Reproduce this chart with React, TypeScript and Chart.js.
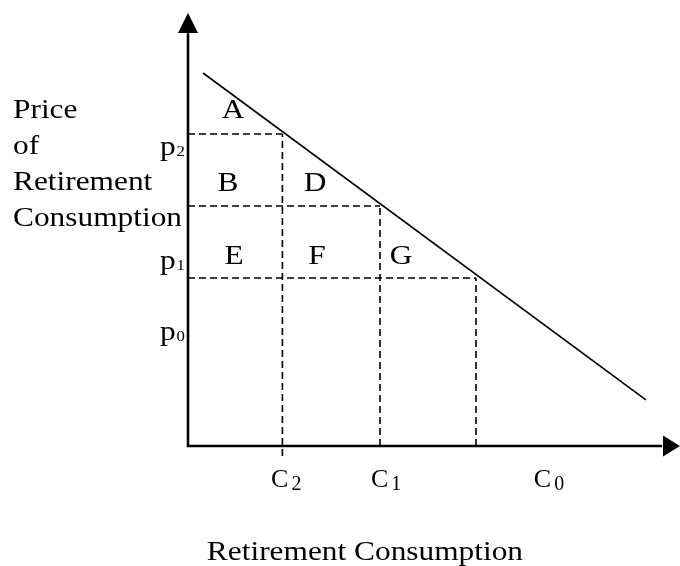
import React, { useEffect, useRef } from "react";
import { Chart, registerables } from "chart.js";

Chart.register(...registerables);

// ---- data (diagram units) ----
const X_MAX = 15.375;
const Y_MAX = 18.04;
const demandX = [0.47, 14.31];
const demandY = [15.54, 1.92];
const cLevels = [2.95, 6, 9]; // vertical dashed guides (C2, C1, third)
const pLevels = [13, 10, 7]; // horizontal dashed guides
const c2Drop = -0.42; // C2 guide continues below the axis
const regionLabels = ["A", "B", "D", "E", "F", "G"];
const regionX = [1.41, 1.25, 3.97, 1.44, 4.03, 6.66];
const regionY = [14.08, 11.0, 11.0, 7.96, 7.96, 7.96];
const priceTickSubs = ["2", "1", "0"];
const priceTickY = [12.125, 7.375, 4.42];
const consTickSubs = ["2", "1", "0"];
const consTickX = [3.07, 6.19, 11.28];
const consTickY = -1.7;
const yTitleLines = ["Price", "of", "Retirement", "Consumption"];
const yTitleTop = 13.67;
const xTitle = "Retirement Consumption";
const xTitleX = 5.53;
const xTitleY = -4.75;

const FONT = '"Liberation Serif", "Times New Roman", serif';
const SX = 1.12;

function drawText(ctx: CanvasRenderingContext2D, text: string, x: number, y: number, size: number, align: "left" | "center" | "right", sx = SX) {
  ctx.save();
  ctx.font = `${size}px ${FONT}`;
  ctx.textBaseline = "alphabetic";
  ctx.textAlign = "left";
  const w = ctx.measureText(text).width * sx;
  let x0 = x;
  if (align === "center") x0 = x - w / 2;
  if (align === "right") x0 = x - w;
  ctx.translate(x0, y);
  ctx.scale(sx, 1);
  ctx.fillStyle = "#000";
  ctx.fillText(text, 0, 0);
  ctx.restore();
  return w;
}

function subWidth(ctx: CanvasRenderingContext2D, main: string, sub: string, mSize: number, sSize: number, sx: number) {
  ctx.save();
  ctx.font = `${mSize}px ${FONT}`;
  const a = ctx.measureText(main).width * sx;
  ctx.font = `${sSize}px ${FONT}`;
  const b = ctx.measureText(sub).width * sx;
  ctx.restore();
  return [a, b];
}

const diagramPlugin = {
  id: "diagram",
  afterDatasetsDraw(chart: any) {
    const ctx: CanvasRenderingContext2D = chart.ctx;
    const xs = chart.scales.x;
    const ys = chart.scales.y;
    const px = (v: number) => xs.getPixelForValue(v);
    const py = (v: number) => ys.getPixelForValue(v);

    // arrowheads
    ctx.save();
    ctx.fillStyle = "#000";
    const ox = px(0);
    const oy = py(0);
    const ty = py(Y_MAX);
    ctx.beginPath();
    ctx.moveTo(ox, ty);
    ctx.lineTo(ox - 10, ty + 20);
    ctx.lineTo(ox + 10, ty + 20);
    ctx.closePath();
    ctx.fill();
    const tx = px(X_MAX);
    ctx.beginPath();
    ctx.moveTo(tx, oy);
    ctx.lineTo(tx - 17, oy - 10.5);
    ctx.lineTo(tx - 17, oy + 10.5);
    ctx.closePath();
    ctx.fill();
    ctx.restore();

    // region letters
    regionLabels.forEach((t, i) => {
      drawText(ctx, t, px(regionX[i]), py(regionY[i]) + 9.5, 28, "center");
    });

    // price ticks p2, p1, p0 (right aligned next to axis)
    priceTickSubs.forEach((s, i) => {
      const right = px(0) - 3;
      const base = py(priceTickY[i]);
      const [a, b] = subWidth(ctx, "p", s, 28, 15, SX);
      const start = right - a - b - 1;
      drawText(ctx, "p", start, base, 28, "left");
      drawText(ctx, s, start + a + 1, base + 1, 15, "left");
    });

    // consumption ticks C2, C1, C0
    consTickSubs.forEach((s, i) => {
      const cx = px(consTickX[i]);
      const base = py(consTickY);
      const [a, b] = subWidth(ctx, "C", s, 26, 20, 1.0);
      const start = cx - (a + b + 3) / 2;
      drawText(ctx, "C", start, base, 26, "left", 1.0);
      drawText(ctx, s, start + a + 3, base + 3, 20, "left", 1.0);
    });

    // y title (left, multi-line)
    yTitleLines.forEach((t, i) => {
      drawText(ctx, t, 13, py(yTitleTop) + i * 36, 28, "left");
    });

    // x title
    drawText(ctx, xTitle, px(xTitleX), py(xTitleY), 28, "center");
  },
};

export default function App() {
  const ref = useRef<HTMLCanvasElement | null>(null);
  useEffect(() => {
    if (!ref.current) return;
    const dash = [7, 4];
    const dashed = (pts: { x: number; y: number }[]) => ({
      data: pts,
      showLine: true,
      borderColor: "#000",
      borderWidth: 1.6,
      borderDash: dash,
      pointRadius: 0,
      fill: false,
      clip: false as any,
    });
    const datasets: any[] = [];
    // horizontal guides
    pLevels.forEach((p, i) => {
      datasets.push(dashed([{ x: 0, y: p }, { x: cLevels[i], y: p }]));
    });
    // vertical guides
    cLevels.forEach((c, i) => {
      datasets.push(dashed([{ x: c, y: i === 0 ? c2Drop : 0 }, { x: c, y: pLevels[i] }]));
    });
    // demand line
    datasets.push({
      data: demandX.map((x, i) => ({ x, y: demandY[i] })),
      showLine: true,
      borderColor: "#000",
      borderWidth: 1.6,
      pointRadius: 0,
      fill: false,
      clip: false,
    });
    // axes
    datasets.push({
      data: [{ x: 0, y: Y_MAX - 0.9 }, { x: 0, y: 0 }, { x: X_MAX - 0.6, y: 0 }],
      showLine: true,
      borderColor: "#000",
      borderWidth: 2.6,
      pointRadius: 0,
      fill: false,
      clip: false,
      borderCapStyle: "square",
      borderJoinStyle: "miter",
    });

    const chart = new Chart(ref.current, {
      type: "scatter",
      data: { datasets },
      options: {
        animation: false,
        responsive: false,
        layout: { padding: { left: 188, top: 13, right: 0, bottom: 120 } },
        plugins: { legend: { display: false }, tooltip: { enabled: false } },
        scales: {
          x: { type: "linear", min: 0, max: X_MAX, display: false },
          y: { type: "linear", min: 0, max: Y_MAX, display: false },
        },
      },
      plugins: [diagramPlugin],
    });
    return () => chart.destroy();
  }, []);
  return (
    <div style={{ position: "absolute", left: 0, top: 0, width: 680, height: 566, background: "#fff" }}>
      <canvas ref={ref} width={680} height={566} />
    </div>
  );
}
